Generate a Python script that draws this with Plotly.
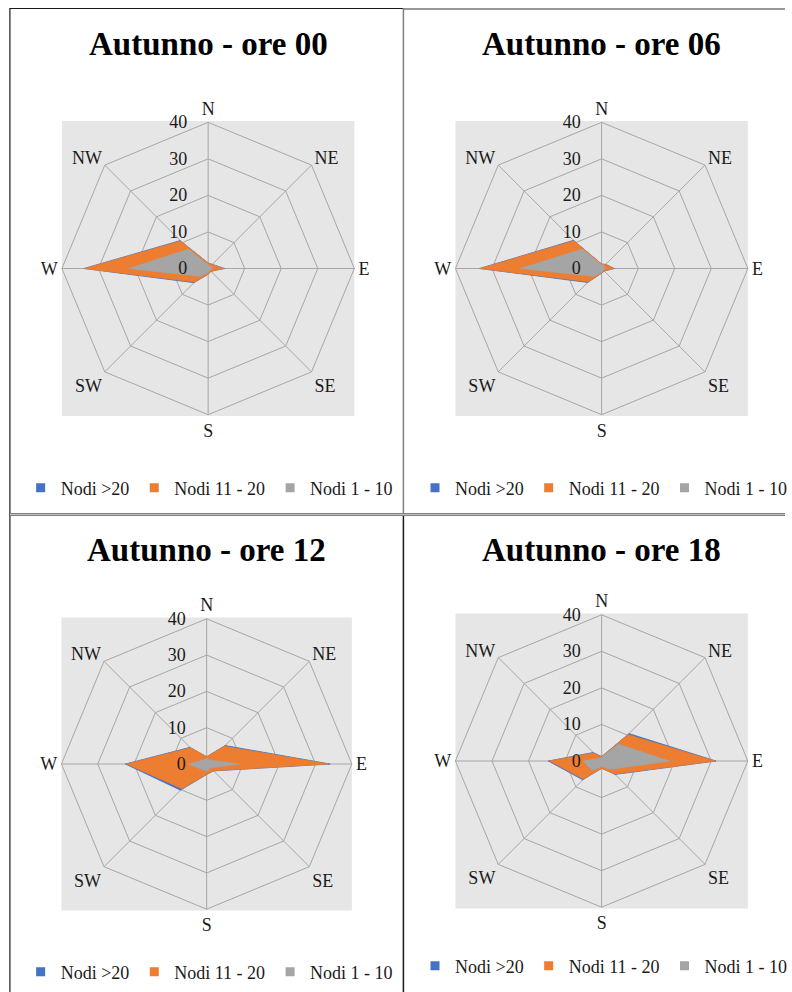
import plotly.graph_objects as go

W, H = 792, 992

directions = ["N", "NE", "E", "SE", "S", "SW", "W", "NW"]
series_names = ["Nodi >20", "Nodi 11 - 20", "Nodi 1 - 10"]
titles = ["Autunno - ore 00", "Autunno - ore 06", "Autunno - ore 12", "Autunno - ore 18"]

# values per panel (blue drawn first, then orange, then gray on top)
ore00_gt20 = [1.5, 1.6, 4.5, 1.1, 1.6, 5.5, 34.0, 10.8]
ore00_11_20 = [1.5, 1.5, 4.3, 1.0, 1.5, 5.2, 33.8, 10.6]
ore00_1_10 = [1.0, 1.0, 1.2, 0.6, 1.0, 3.0, 21.7, 7.5]

ore06_gt20 = [1.2, 1.6, 3.5, 1.0, 1.3, 5.4, 33.4, 10.9]
ore06_11_20 = [1.2, 1.5, 3.3, 0.9, 1.2, 5.1, 33.2, 10.7]
ore06_1_10 = [1.0, 1.0, 1.0, 0.6, 1.0, 3.0, 22.2, 7.5]

ore12_gt20 = [2.0, 7.2, 34.0, 2.7, 2.9, 10.2, 22.4, 6.5]
ore12_11_20 = [2.0, 6.9, 33.5, 2.6, 2.8, 9.6, 22.0, 6.3]
ore12_1_10 = [1.5, 1.5, 9.0, 1.5, 2.0, 2.0, 5.0, 1.5]

ore18_gt20 = [1.2, 10.6, 31.3, 5.2, 2.0, 7.3, 14.6, 3.3]
ore18_11_20 = [1.1, 10.2, 31.0, 5.0, 2.0, 7.0, 14.2, 3.1]
ore18_1_10 = [1.0, 6.5, 18.5, 3.2, 1.5, 3.7, 5.0, 1.0]

radial_ticks = [0, 10, 20, 30, 40]

panel_data = [
    [ore00_gt20, ore00_11_20, ore00_1_10],
    [ore06_gt20, ore06_11_20, ore06_1_10],
    [ore12_gt20, ore12_11_20, ore12_1_10],
    [ore18_gt20, ore18_11_20, ore18_1_10],
]

colors = ["#4472C4", "#ED7D31", "#A5A5A5"]

# layout geometry in pixels (centre x, centre y, radius, title y, legend y)
geom = [
    dict(cx=210.0, cy=268.5, r=147.5, ty=44, lx=211, ly=488),
    dict(cx=607.0, cy=268.5, r=147.5, ty=44, lx=609, ly=488),
    dict(cx=208.5, cy=764.0, r=146.5, ty=550, lx=211, ly=972),
    dict(cx=607.0, cy=761.0, r=147.5, ty=550, lx=609, ly=966),
]

fig = go.Figure()
FONT = "Liberation Serif, Times New Roman, serif"

for i, (vals, g) in enumerate(zip(panel_data, geom)):
    pname = "polar" if i == 0 else f"polar{i+1}"
    lname = "legend" if i == 0 else f"legend{i+1}"
    for name, v, c in zip(series_names, vals, colors):
        fig.add_trace(go.Scatterpolar(
            r=v + [v[0]], theta=directions + [directions[0]],
            mode="lines", fill="toself", fillcolor=c,
            line=dict(color=c, width=0.8),
            name=name, subplot=pname, showlegend=False, hoverinfo="skip"))
    for name, c in zip(series_names, colors):
        fig.add_trace(go.Scatterpolar(
            r=[None], theta=[directions[0]], mode="markers",
            marker=dict(symbol="square", size=9, color=c),
            name=name, subplot=pname, legend=lname, showlegend=True))

    x0 = (g["cx"] - g["r"]) / W
    x1 = (g["cx"] + g["r"]) / W
    y0 = 1 - (g["cy"] + g["r"]) / H
    y1 = 1 - (g["cy"] - g["r"]) / H
    polar = dict(
        domain=dict(x=[x0, x1], y=[y0, y1]),
        gridshape="linear",
        bgcolor="rgba(0,0,0,0)",
        radialaxis=dict(range=[0, 40], tickvals=radial_ticks, angle=90,
                        showline=False, ticks="outside", ticklen=14,
                        tickcolor="rgba(0,0,0,0)", gridcolor="#A6A6A6",
                        gridwidth=1, tickfont=dict(family=FONT, size=18, color="#1a1a1a"),
                        side="counterclockwise", tickangle=90),
        angularaxis=dict(direction="clockwise", rotation=90,
                         categoryorder="array", categoryarray=directions,
                         showline=True, linecolor="#A6A6A6", linewidth=1,
                         gridcolor="#A6A6A6", gridwidth=1, ticks="",
                         tickfont=dict(family=FONT, size=18, color="#1a1a1a")),
    )
    fig.update_layout(**{pname: polar})
    fig.update_layout(**{lname: dict(
        orientation="h", x=g["lx"] / W, xanchor="center",
        y=1 - g["ly"] / H, yanchor="middle",
        font=dict(family=FONT, size=18, color="#1a1a1a"),
        bgcolor="rgba(0,0,0,0)", itemwidth=30, tracegroupgap=0)})
    fig.add_shape(type="rect", xref="paper", yref="paper",
                  x0=x0, x1=x1, y0=y0, y1=y1,
                  fillcolor="#E7E6E6", line=dict(width=0), layer="below")
    fig.add_annotation(text="<b>" + titles[i] + "</b>", xref="paper", yref="paper",
                       x=g["cx"] / W, y=1 - g["ty"] / H, xanchor="center",
                       yanchor="middle", showarrow=False,
                       font=dict(family=FONT, size=33, color="black"))


def px_line(xa, ya, xb, yb, color, width):
    fig.add_shape(type="line", xref="paper", yref="paper",
                  x0=xa / W, x1=xb / W, y0=1 - ya / H, y1=1 - yb / H,
                  line=dict(color=color, width=width))


px_line(10, 8.5, 407, 8.5, "#1a1a1a", 1.2)
px_line(407, 9, 792, 9, "#333333", 1.2)
px_line(10, 8, 10, 992, "#1a1a1a", 1.2)
px_line(407, 8, 407, 514, "#808080", 1.5)
px_line(407, 514, 407, 992, "#1a1a1a", 1.5)
px_line(10, 514.5, 792, 514.5, "#7f7f7f", 3)
px_line(10, 514.5, 792, 514.5, "#d0d0d0", 0.8)

fig.update_layout(width=W, height=H, margin=dict(l=0, r=0, t=0, b=0),
                  paper_bgcolor="white", plot_bgcolor="white",
                  font=dict(family=FONT, size=18, color="#1a1a1a"))

fig.write_html("out.html")
